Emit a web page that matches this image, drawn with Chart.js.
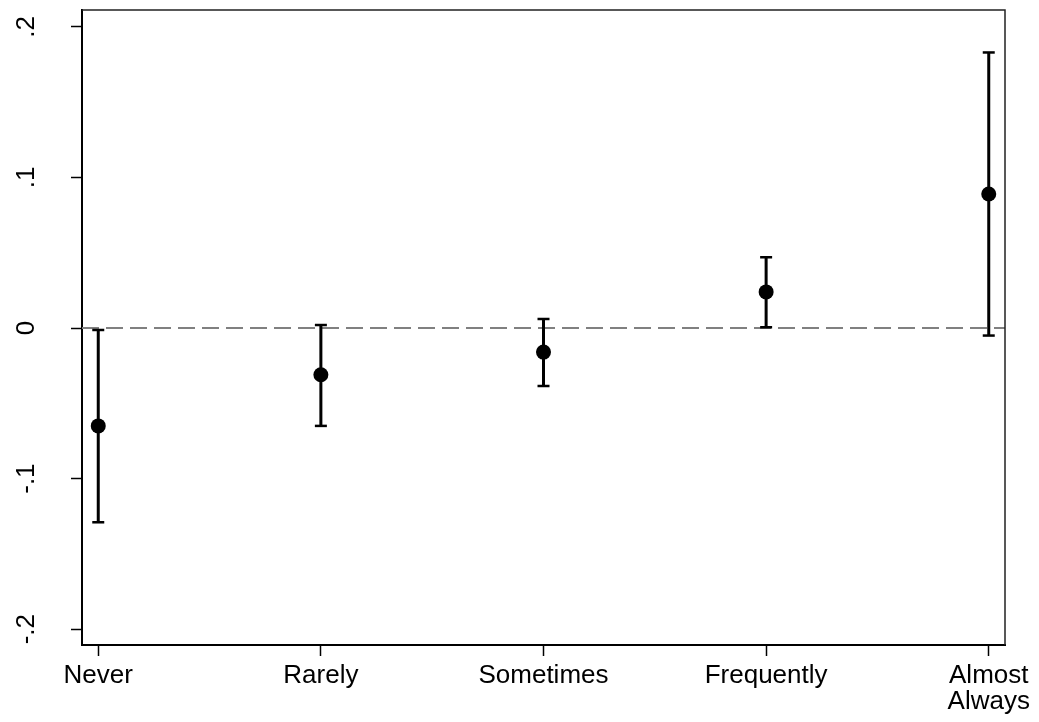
<!DOCTYPE html>
<html>
<head>
<meta charset="utf-8">
<script src="https://cdn.jsdelivr.net/npm/chart.js@4.4.1/dist/chart.umd.min.js"></script>
<style>
  html, body { margin: 0; padding: 0; background: #fff; }
  #wrap { width: 1039px; height: 722px; position: relative; }
</style>
</head>
<body>
<div id="wrap"><canvas id="coefPlot"></canvas></div>
<script>
// data
const categories = ['Never', 'Rarely', 'Sometimes', 'Frequently', ['Almost', 'Always']];
const estimates = [-0.065, -0.031, -0.016, 0.024, 0.089];
const ciLower = [-0.129, -0.065, -0.0385, 0.0005, -0.005];
const ciUpper = [-0.0013, 0.002, 0.006, 0.047, 0.183];
const yTickValues = [-0.2, -0.1, 0, 0.1, 0.2];
const yTickLabels = ['-.2', '-.1', '0', '.1', '.2'];

const positions = categories.map((c, i) => i + 1);
const labelFont = { family: "'Liberation Sans', Arial, sans-serif", size: 26, lineHeight: 1.0 };

// whiskers: one broken line, null between categories
const whiskerData = positions.flatMap((p, i) => [
    { x: p, y: ciLower[i] },
    { x: p, y: ciUpper[i] },
    { x: p, y: null }
]);
const capData = positions.flatMap((p, i) => [
    { x: p, y: ciLower[i] },
    { x: p, y: ciUpper[i] }
]);
const pointData = positions.map((p, i) => ({ x: p, y: estimates[i] }));

// zero line, frame and rotated y labels
const stataBits = {
    id: 'stataBits',
    beforeDatasetsDraw(chart) {
        const { ctx, chartArea, scales } = chart;
        const y0 = scales.y.getPixelForValue(0);
        ctx.save();
        ctx.strokeStyle = '#808080';
        ctx.lineWidth = 2;
        ctx.setLineDash([17, 7]);
        ctx.beginPath();
        ctx.moveTo(chartArea.left, y0);
        ctx.lineTo(chartArea.right, y0);
        ctx.stroke();
        ctx.restore();
    },
    afterDraw(chart) {
        const { ctx, chartArea, scales } = chart;
        ctx.save();
        ctx.strokeStyle = '#222';
        ctx.lineWidth = 1.5;
        ctx.beginPath();
        ctx.moveTo(chartArea.left, chartArea.top);
        ctx.lineTo(chartArea.right, chartArea.top);
        ctx.lineTo(chartArea.right, chartArea.bottom);
        ctx.stroke();

        ctx.fillStyle = '#000';
        ctx.font = "26px 'Liberation Sans', Arial, sans-serif";
        ctx.textAlign = 'center';
        ctx.textBaseline = 'alphabetic';
        yTickValues.forEach((v, i) => {
            ctx.save();
            ctx.translate(34, scales.y.getPixelForValue(v));
            ctx.rotate(-Math.PI / 2);
            ctx.fillText(yTickLabels[i], 0, 0);
            ctx.restore();
        });
        ctx.restore();
    }
};

const coefPlotData = {
    datasets: [
        {
            type: 'scatter',
            data: pointData,
            pointRadius: 7.5,
            pointBackgroundColor: '#000',
            pointBorderWidth: 0
        },
        {
            type: 'scatter',
            data: capData,
            pointStyle: 'line',
            pointRadius: 6,
            pointBorderColor: '#000',
            pointBorderWidth: 2.5
        },
        {
            type: 'line',
            data: whiskerData,
            borderColor: '#000',
            borderWidth: 3,
            pointRadius: 0,
            spanGaps: false,
            fill: false
        }
    ]
};

const coefPlotOptions = {
    responsive: true,
    maintainAspectRatio: false,
    animation: false,
    events: [],
    layout: { padding: { top: 10, right: 34, bottom: 0, left: 0 } },
    plugins: {
        legend: { display: false },
        tooltip: { enabled: false }
    },
    scales: {
        x: {
            type: 'linear',
            min: 0.927,
            max: 5.073,
            afterBuildTicks: scale => { scale.ticks = positions.map(v => ({ value: v })); },
            afterFit: scale => { scale.height = 77; },
            ticks: {
                autoSkip: false,
                maxRotation: 0,
                padding: 7,
                color: '#000',
                font: labelFont,
                callback: v => categories[v - 1]
            },
            grid: { drawOnChartArea: false, tickLength: 11, tickColor: '#000', tickWidth: 1.5 },
            border: { display: true, color: '#000', width: 2 }
        },
        y: {
            min: -0.2105,
            max: 0.2112,
            afterBuildTicks: scale => { scale.ticks = yTickValues.map(v => ({ value: v })); },
            afterFit: scale => { scale.width = 82; },
            ticks: { display: false },
            grid: { drawOnChartArea: false, tickLength: 11, tickColor: '#000', tickWidth: 1.5 },
            border: { display: true, color: '#000', width: 2 }
        }
    }
};

const coefPlot = new Chart(document.getElementById('coefPlot'), {
    type: 'scatter',
    data: coefPlotData,
    options: coefPlotOptions,
    plugins: [stataBits]
});
</script>
</body>
</html>
